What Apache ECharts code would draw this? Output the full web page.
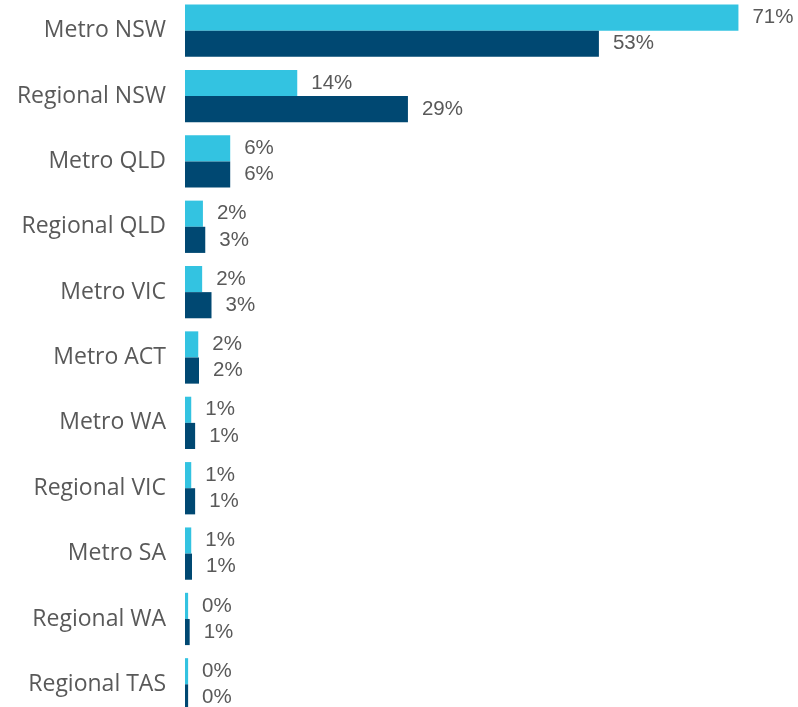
<!DOCTYPE html>
<html>
<head>
<meta charset="utf-8">
<script src="https://cdn.jsdelivr.net/npm/echarts@6/dist/echarts.min.js"></script>
<style>html,body{margin:0;padding:0;background:#fff}#c{width:798px;height:707px}</style>
</head>
<body>
<div id="c"></div>
<script>
const categories = ['Metro NSW','Regional NSW','Metro QLD','Regional QLD','Metro VIC','Metro ACT','Metro WA','Regional VIC','Metro SA','Regional WA','Regional TAS'];
const seriesA = [71.0, 14.4, 5.8, 2.3, 2.2, 1.7, 0.8, 0.8, 0.8, 0.4, 0.4];
const seriesB = [53.1, 28.6, 5.8, 2.6, 3.4, 1.8, 1.3, 1.3, 0.9, 0.6, 0.4];

const chart = echarts.init(document.getElementById('c'));
const lbl = {
  show: true, position: 'right', distance: 14,
  color: '#595959', fontFamily: 'Liberation Sans, Arial', fontSize: 20.5,
  formatter: p => Math.round(p.value) + '%'
};
chart.setOption({
  animation: false,
  grid: {left: 185, top: -2, width: 608, height: 719, containLabel: false, outerBoundsMode: 'none'},
  xAxis: {type: 'value', min: 0, max: 78, show: false},
  yAxis: {
    type: 'category', data: categories, inverse: true,
    axisLine: {show: false}, axisTick: {show: false},
    axisLabel: {color: '#595959', fontFamily: 'Open Sans', fontSize: 23, margin: 19}
  },
  series: [
    {name: 'A', type: 'bar', data: seriesA, barCategoryGap: '20%', barGap: '0%', itemStyle: {color: '#33c3e1'}, label: lbl},
    {name: 'B', type: 'bar', data: seriesB, barCategoryGap: '20%', barGap: '0%', itemStyle: {color: '#004872'}, label: lbl}
  ]
});
</script>
</body>
</html>
